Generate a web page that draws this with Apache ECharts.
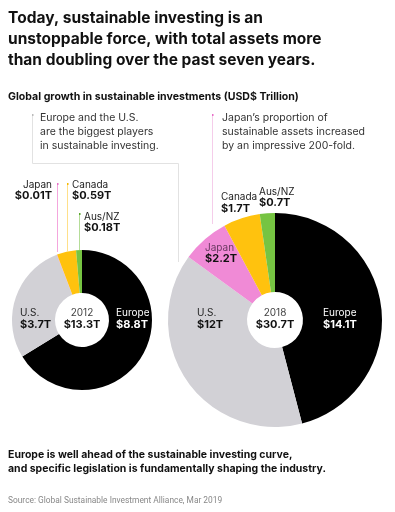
<!DOCTYPE html>
<html><head><meta charset="utf-8">
<script src="https://cdn.jsdelivr.net/npm/echarts@6/dist/echarts.min.js"></script>
<style>html,body{margin:0;padding:0;background:#fff}#c{width:395px;height:512px}</style>
</head><body><div id="c"></div>
<script>
const regions = ['Europe', 'U.S.', 'Japan', 'Canada', 'Aus/NZ'];
const values2012 = [8.8, 3.7, 0.01, 0.59, 0.18];
const values2018 = [14.1, 12, 2.2, 1.7, 0.7];
const years = ['2012', '2018'];
const colors = ['#000000', '#d2d1d6', '#f08ad6', '#ffc20e', '#76c442'];

const F = 'Inter, "Noto Sans", sans-serif';
const fmt = v => '$' + v + 'T';
const total = arr => '$' + arr.reduce((a, b) => a + b, 0).toFixed(1) + 'T';

function txt(x, y, t, o) {
  return {type: 'text', x: x, y: y, z: 100, style: Object.assign({
    text: t, font: '10px ' + F, fill: '#222', textVerticalAlign: 'middle', textAlign: 'left'}, o || {})};
}
function line(x1, y1, x2, y2, c) {
  return {type: 'line', z: 100, shape: {x1: x1, y1: y1, x2: x2, y2: y2}, style: {stroke: c, lineWidth: 1}};
}
function dot(x, y, c) {
  return {type: 'rect', z: 100, shape: {x: x - 0.5, y: y, width: 1.5, height: 2}, style: {fill: c}};
}
const g = [];
// title
['Today, sustainable investing is an', 'unstoppable force, with total assets more', 'than doubling over the past seven years.']
  .forEach((t, i) => g.push(txt(8, 18 + i * 21, t, {font: 'bold 15.5px ' + F, fill: '#111'})));
g.push(txt(8, 97, 'Global growth in sustainable investments (USD$ Trillion)', {font: 'bold 10.6px ' + F, fill: '#111'}));
// annotations
['Europe and the U.S.', 'are the biggest players', 'in sustainable investing.']
  .forEach((t, i) => g.push(txt(40, 118 + i * 14, t, {font: '10.5px ' + F, fill: '#333'})));
['Japan\u2019s proportion of', 'sustainable assets increased', 'by an impressive 200-fold.']
  .forEach((t, i) => g.push(txt(222, 118 + i * 14, t, {font: '10.5px ' + F, fill: '#333'})));
g.push(line(32.5, 115, 32.5, 163.5, '#e2e2e2'));
g.push(line(32.5, 163.5, 178.5, 163.5, '#e2e2e2'));
g.push(line(178.5, 163.5, 178.5, 262, '#e2e2e2'));
g.push(dot(32.5, 114, '#bbb'));
g.push(line(212.5, 115, 212.5, 224, '#f5cdea'));
g.push(dot(212.5, 114, '#e86fc8'));
// 2012 callouts
g.push(line(57.5, 184, 57.5, 252, '#f4a6dd'));
g.push(dot(57.5, 183, '#e86fc8'));
g.push(line(67.5, 184, 67.5, 252, '#ffe08a'));
g.push(dot(67.5, 183, '#f5b800'));
g.push(line(79.5, 214, 79.5, 250, '#b5dd98'));
g.push(dot(79.5, 213, '#5aa52c'));
g.push(txt(52, 185, regions[2], {textAlign: 'right'}));
g.push(txt(52, 196, fmt(values2012[2]), {textAlign: 'right', font: 'bold 11px ' + F, fill: '#111'}));
g.push(txt(72, 185, regions[3]));
g.push(txt(72, 196, fmt(values2012[3]), {font: 'bold 11px ' + F, fill: '#111'}));
g.push(txt(84, 217, regions[4]));
g.push(txt(84, 228, fmt(values2012[4]), {font: 'bold 11px ' + F, fill: '#111'}));
g.push(txt(20, 313, regions[1]));
g.push(txt(20, 325, fmt(values2012[1]), {font: 'bold 11px ' + F, fill: '#111'}));
g.push(txt(116, 313, regions[0], {fill: '#fff'}));
g.push(txt(116, 325, fmt(values2012[0]), {font: 'bold 11px ' + F, fill: '#fff'}));
g.push(txt(82, 313, years[0], {textAlign: 'center', fill: '#444'}));
g.push(txt(82, 325, total(values2012), {textAlign: 'center', font: 'bold 11px ' + F, fill: '#111'}));
// 2018 labels
g.push(txt(221, 197, regions[3]));
g.push(txt(221, 209, fmt(values2018[3]), {font: 'bold 11px ' + F, fill: '#111'}));
g.push(txt(259, 192, regions[4]));
g.push(txt(259, 203, fmt(values2018[4]), {font: 'bold 11px ' + F, fill: '#111'}));
g.push(txt(205, 248, regions[2], {fill: '#6b3a62'}));
g.push(txt(205, 259, fmt(values2018[2]), {font: 'bold 11px ' + F, fill: '#111'}));
g.push(txt(197, 313, regions[1]));
g.push(txt(197, 325, fmt(values2018[1]), {font: 'bold 11px ' + F, fill: '#111'}));
g.push(txt(323, 313, regions[0], {fill: '#fff'}));
g.push(txt(323, 325, fmt(values2018[0]), {font: 'bold 11px ' + F, fill: '#fff'}));
g.push(txt(275, 313, years[1], {textAlign: 'center', fill: '#444'}));
g.push(txt(275, 325, total(values2018), {textAlign: 'center', font: 'bold 11px ' + F, fill: '#111'}));
// footer
g.push(txt(8, 455, 'Europe is well ahead of the sustainable investing curve,', {font: 'bold 10.5px ' + F, fill: '#111'}));
g.push(txt(8, 469, 'and specific legislation is fundamentally shaping the industry.', {font: 'bold 10.5px ' + F, fill: '#111'}));
g.push(txt(8, 501, 'Source: Global Sustainable Investment Alliance, Mar 2019', {font: '8.4px Roboto, sans-serif', fill: '#888'}));

const mk = (vals, center, radius) => ({
  type: 'pie', center: center, radius: radius, startAngle: 90, clockwise: true, z: 2,
  silent: true, animation: false, label: {show: false}, labelLine: {show: false},
  itemStyle: {borderWidth: 0},
  data: regions.map((r, i) => ({name: r, value: vals[i], itemStyle: {color: colors[i]}}))
});

const chart = echarts.init(document.getElementById('c'), null, {renderer: 'canvas'});
chart.setOption({
  animation: false,
  series: [mk(values2012, [82, 320], [27, 70]), mk(values2018, [275, 320], [28, 107])],
  graphic: {elements: g}
});
</script></body></html>
